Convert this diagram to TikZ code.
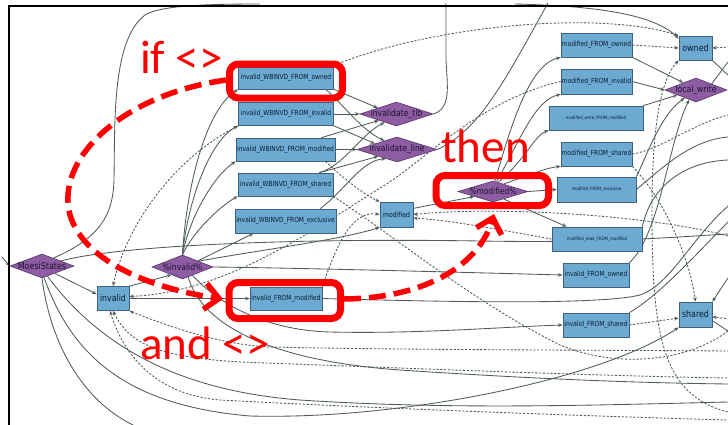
\documentclass[tikz,border=0pt]{standalone}
\usepackage{fontspec}
\usetikzlibrary{arrows.meta,shapes.geometric,backgrounds}
\newfontfamily\gv[FakeStretch=0.85]{DejaVu Sans}
\newfontfamily\redf{Carlito}
\newcommand\fsz[1]{\fontsize{#1}{#1}\selectfont}
\definecolor{boxfill}{RGB}{108,170,210}
\definecolor{boxline}{RGB}{62,98,125}
\definecolor{boxtext}{RGB}{10,28,50}
\definecolor{dmfill}{RGB}{141,92,163}
\definecolor{dmline}{RGB}{95,60,115}
\definecolor{dmtext}{RGB}{30,18,45}
\definecolor{edgec}{RGB}{78,92,92}
\definecolor{annred}{RGB}{255,0,0}
\tikzset{
  st/.style={draw=boxline, fill=boxfill, line width=0.7pt, inner sep=0pt, text=boxtext},
  dm/.style={diamond, draw=dmline, fill=dmfill, line width=0.7pt, inner sep=0pt},
  dmlab/.style={text=dmtext, inner sep=0pt, font=\gv\fsz{9}},
  e/.style={draw=edgec, line width=0.85pt, -{Stealth[length=4.5pt,width=3.6pt]}},
  er/.style={draw=edgec, line width=0.85pt, {Stealth[length=4.5pt,width=3.6pt]}-},
  ln/.style={draw=edgec, line width=0.85pt},
  dsh/.style={dash pattern=on 2.2pt off 1.6pt},
  rbox/.style={draw=annred, line width=7pt, rounded corners=9pt},
  rarrow/.style={draw=annred, line width=5.5pt, dash pattern=on 17pt off 8pt,
    -{Straight Barb[length=14pt,width=26pt]}},
  rtext/.style={text=annred, inner sep=0pt, anchor=base west, font=\redf\fsz{47}}
}
\begin{document}
\begin{tikzpicture}[x=1pt,y=-1pt]
\useasboundingbox (0,0) rectangle (728,424);

% ---- state boxes ----
\node[st, minimum width=95pt, minimum height=22pt, font=\gv\fsz{7}] (wbo) at (286,78) {invalid\_WBINVD\_FROM\_owned};
\node[st, minimum width=95pt, minimum height=23pt, font=\gv\fsz{7}] (wbi) at (286,114) {invalid\_WBINVD\_FROM\_invalid};
\node[st, minimum width=99pt, minimum height=23pt, font=\gv\fsz{7}] (wbm) at (285.5,149.5) {invalid\_WBINVD\_FROM\_modified};
\node[st, minimum width=95pt, minimum height=23pt, font=\gv\fsz{7}] (wbs) at (285.5,184.5) {invalid\_WBINVD\_FROM\_shared};
\node[st, minimum width=101pt, minimum height=24pt, font=\gv\fsz{7}] (wbe) at (285.5,221) {invalid\_WBINVD\_FROM\_exclusive};
\node[st, minimum width=33pt, minimum height=25pt, font=\gv\fsz{7.2}] (modb) at (396.5,214.5) {modified};
\node[st, minimum width=72pt, minimum height=23pt, font=\gv\fsz{7}] (ifm) at (286,298.5) {invalid\_FROM\_modified};
\node[st, minimum width=32pt, minimum height=24pt, font=\gv\fsz{9.2}] (inv) at (113,298.5) {invalid};
\node[st, minimum width=71pt, minimum height=24pt, font=\gv\fsz{7}] (mfo) at (596.5,45) {modified\_FROM\_owned};
\node[st, minimum width=71pt, minimum height=25pt, font=\gv\fsz{7}] (mfi) at (596.5,81.5) {modified\_FROM\_invalid};
\node[st, minimum width=94pt, minimum height=24pt, font=\gv\fsz{4.5}] (mwm) at (596,118) {modified\_write\_FROM\_modified};
\node[st, minimum width=71pt, minimum height=24pt, font=\gv\fsz{7}] (mfs) at (596.5,154) {modified\_FROM\_shared};
\node[st, minimum width=79pt, minimum height=25pt, font=\gv\fsz{4.5}] (mfe) at (596.5,189.5) {modified\_FROM\_exclusive};
\node[st, minimum width=90pt, minimum height=24pt, font=\gv\fsz{4.6}] (mrm) at (597,239) {modified\_read\_FROM\_modified};
\node[st, minimum width=66pt, minimum height=24pt, font=\gv\fsz{7}] (ifo) at (596,275) {invalid\_FROM\_owned};
\node[st, minimum width=66pt, minimum height=24pt, font=\gv\fsz{7}] (ifs) at (596,325) {invalid\_FROM\_shared};
\node[st, minimum width=33pt, minimum height=24pt, font=\gv\fsz{9.4}] (own) at (695.5,48) {owned};
\node[st, minimum width=33pt, minimum height=25pt, font=\gv\fsz{9.3}] (shr) at (695.5,314.5) {shared};

% ---- decision diamonds ----
\node[dm, minimum width=73pt, minimum height=24pt, label={[dmlab]center:invalidate\_tlb}] (tlb) at (396.5,114) {};
\node[dm, minimum width=80pt, minimum height=25pt, label={[dmlab]center:invalidate\_line}] (lne) at (397,149.5) {};
\node[dm, minimum width=70pt, minimum height=21pt, label={[dmlab,font=\gv\fsz{8.8}]center:\%modified\%}] (modv) at (493,191.5) {};
\node[dm, minimum width=62pt, minimum height=24pt, label={[dmlab]center:local\_write}] (lw) at (696,90) {};
\node[dm, minimum width=61pt, minimum height=24pt, label={[dmlab]center:\%invalid\%}] (invv) at (182.5,267) {};
\node[dm, minimum width=64pt, minimum height=24pt, label={[dmlab,font=\gv\fsz{9.4}]center:MoesiStates}] (ms) at (42,266) {};

% ---- free ends of edges leaving the view ----
\coordinate (tA) at (446,3);
\coordinate (tB) at (548,3);
\coordinate (tC) at (515,4);
\coordinate (tD) at (260,4);
\coordinate (lA) at (2,257);
\coordinate (rA) at (730,47);
\coordinate (rB) at (728,62);
\coordinate (rC) at (728,75);
\coordinate (rD) at (728,115);
\coordinate (rE) at (728,137);
\coordinate (rF) at (728,160);
\coordinate (rG) at (728,206);
\coordinate (rH) at (728,222);
\coordinate (rI) at (728,234);
\coordinate (rJ) at (728,236);
\coordinate (rK) at (728,278);
\coordinate (rL) at (730,319);
\coordinate (rM) at (728,331);
\coordinate (rN) at (728,351);
\coordinate (rO) at (728,378);
\coordinate (rP) at (728,384);
\coordinate (rQ) at (728,402);
\coordinate (rR) at (728,412);
\coordinate (rS) at (728,420);
\coordinate (bA) at (135,426);

\begin{pgfonlayer}{background}
% %invalid% fans out to the WBINVD transitions
\draw[e] (invv.north) .. controls (186,190) and (205,110) .. (wbo.south west);
\draw[e] (invv.north) .. controls (188,200) and (210,140) .. (wbi.south west);
\draw[e] (invv.north) .. controls (190,215) and (215,175) .. (wbm.south west);
\draw[e] (invv.north) .. controls (194,230) and (222,205) .. (wbs.south west);
\draw[e] (invv.north east) -- ([xshift=-32pt]wbe.south);
% WBINVD transitions into the invalidation steps
\draw[e] (wbo.south east) -- (tlb.162);
\draw[e] ([xshift=-8pt]wbo.south east) .. controls (350,112) and (362,130) .. (lne.145);
\draw[e] (wbi.east) -- (tlb.west);
\draw[e] (wbi.south east) -- (lne.165);
\draw[e] (wbm.east) -- (lne.west);
\draw[e] ([xshift=-14pt]wbm.north east) -- (tlb.200);
\draw[e] ([xshift=-14pt]wbs.north east) .. controls (345,165) and (360,135) .. (tlb.215);
\draw[e] ([xshift=-14pt]wbs.north east) -- (lne.200);
\draw[e] ([xshift=-16pt]wbe.north east) .. controls (345,190) and (362,160) .. (lne.220);
\draw[ln] (tlb.east) .. controls (452,108) and (447,85) .. (446,60) -- (tA);
\draw[ln] (lne.east) .. controls (480,130) and (505,80) .. (tB);
% dashed returns to the source states
\draw[e,dsh] ([xshift=-3pt]wbo.north east) .. controls (430,25) and (600,10) .. (own.north west);
\draw[e] (tC) .. controls (600,6) and (655,15) .. ([yshift=-3pt]own.north west);
\draw[e,dsh] ([xshift=-10pt]wbm.south east) .. controls (345,180) and (365,195) .. (modb.north west);
\draw[e,dsh] (wbi.south west) .. controls (170,160) and (125,230) .. (inv.north);
\draw[e,dsh] (mfi.west) .. controls (480,100) and (425,160) .. (385,185) .. controls (320,225) and (230,292) .. ([yshift=2pt]inv.east);
\draw[e,dsh] (ifm.north east) .. controls (335,250) and (350,210) .. (modb.west);
\draw[ln,dsh] (wbs.south east) .. controls (400,240) and (470,300) .. (560,345) .. controls (620,370) and (690,360) .. (rM);
% %modified% fans out to the modified transitions
\draw[e] (modv.80) .. controls (510,130) and (528,65) .. (mfo.south west);
\draw[e] (modv.70) .. controls (520,140) and (535,100) .. (mfi.south west);
\draw[e] (modv.60) .. controls (525,160) and (535,135) .. (mwm.south west);
\draw[e] (modv.35) .. controls (530,175) and (545,168) .. (mfs.south west);
\draw[e] (modv.east) -- (mfe.west);
\draw[e] (modv.-35) -- ([xshift=15pt]mrm.north west);
\draw[e] (modb.20) -- (modv.195);
\draw[e] (invv.20) .. controls (260,250) and (340,240) .. (modb.south west);
\draw[e,dsh] (mrm.west) .. controls (500,230) and (450,220) .. (modb.-12);
\draw[e,dsh] (rJ) .. controls (650,215) and (500,206) .. (modb.east);
% into local_write and owned
\draw[e] (mfo.south east) -- (lw.150);
\draw[e] (mfi.east) -- (lw.west);
\draw[e] (mwm.north east) -- (lw.195);
\draw[e] (mfe.north east) .. controls (645,160) and (660,115) .. (lw.215);
\draw[e] (ifo.north east) .. controls (660,235) and (668,143) .. (lw.235);
\draw[e,dsh] (mfo.east) -- (own.west);
\draw[e,dsh] (rA) -- (own.east);
\draw[ln] (lw.north east) -- (rB);
\draw[ln] (own.south east) -- (rC);
\draw[er,dsh] (own.south west) .. controls (660,80) and (652,130) .. (652,210) .. controls (652,330) and (660,395) .. (rR);
\draw[ln,dsh] (mfs.east) .. controls (660,150) and (690,125) .. (rD);
\draw[ln] (mfe.east) .. controls (660,170) and (690,140) .. (rE);
\draw[ln] (mrm.north east) .. controls (650,190) and (680,162) .. (rF);
% MoesiStates
\draw[e] (lA) -- (ms.west);
\draw[e] (ms.-30) -- (inv.165);
\draw[ln] (ms.35) .. controls (100,238) and (113,215) .. (114,180) .. controls (115,120) and (112,40) .. (145,15) .. controls (160,6) and (200,4) .. (tD);
\draw[ln] (ms.15) .. controls (120,245) and (300,238) .. (480,241) .. controls (600,243) and (660,238) .. (rI);
\draw[ln] (ms.south) .. controls (50,340) and (80,400) .. (bA);
\draw[e] (ms.-80) .. controls (70,350) and (120,405) .. (250,416) .. controls (400,420) and (600,380) .. (shr.south west);
\draw[ln] (ms.-62) .. controls (95,340) and (170,390) .. (300,400) .. controls (450,410) and (600,405) .. (rQ);
% invalid and %invalid%
\draw[e] (inv.north east) -- (invv.215);
\draw[e] (inv.east) -- (ifm.west);
\draw[e] (invv.east) .. controls (300,268) and (450,272) .. (ifo.west);
\draw[e] (invv.-40) .. controls (215,300) and (260,330) .. (330,332) .. controls (420,334) and (500,327) .. (ifs.west);
\draw[ln] (invv.-60) .. controls (200,320) and (260,360) .. (400,370) .. controls (550,380) and (650,383) .. (rP);
\draw[er,dsh] (inv.south east) .. controls (165,325) and (220,345) .. (270,347) .. controls (400,350) and (600,350) .. (rN);
\draw[er,dsh] (inv.south) .. controls (130,345) and (160,360) .. (267,363) .. controls (400,368) and (600,376) .. (rO);
\draw[er,dsh] ([xshift=-3pt]inv.south) .. controls (125,360) and (160,395) .. (220,400) .. controls (350,407) and (550,415) .. (rS);
% invalid_FROM transitions and shared
\draw[ln] (ifm.east) .. controls (450,302) and (600,305) .. (640,295) .. controls (670,285) and (690,240) .. (rG);
\draw[ln] (ifs.north east) .. controls (660,295) and (700,250) .. (rH);
\draw[e,dsh] (ifs.east) -- (shr.192);
\draw[e,dsh] (mfs.south east) .. controls (665,200) and (690,260) .. (shr.north);
\draw[e] (rK) -- (shr.north east);
\draw[e,dsh] (rL) -- (shr.-8);
\draw[ln] (shr.-20) -- (rM);
\end{pgfonlayer}

% ---- frame ----
\draw[line width=2pt] (9,426) -- (9,6) -- (730,6);

% ---- annotations ----
\draw[rbox] (229.5,64) rectangle (342.5,98);
\draw[rbox] (436,175.5) rectangle (548.5,205.5);
\draw[rbox] (229,282.5) rectangle (340.5,318.5);
\node[rtext] (tif) at (140,73) {if <>};
\node[rtext] (tthen) at (441,162) {then};
\node[rtext] (tand) at (140,359) {and <>};
\coordinate (ra1) at (226,80);
\coordinate (ra2) at (223,299);
\coordinate (rb1) at (344,299);
\coordinate (rb2) at (494,214);
\draw[rarrow] (ra1) .. controls (120,95) and (55,160) .. (70,215) .. controls (85,265) and (160,290) .. (ra2);
\draw[rarrow] (rb1) .. controls (430,298) and (480,262) .. (rb2);
\end{tikzpicture}
\end{document}
